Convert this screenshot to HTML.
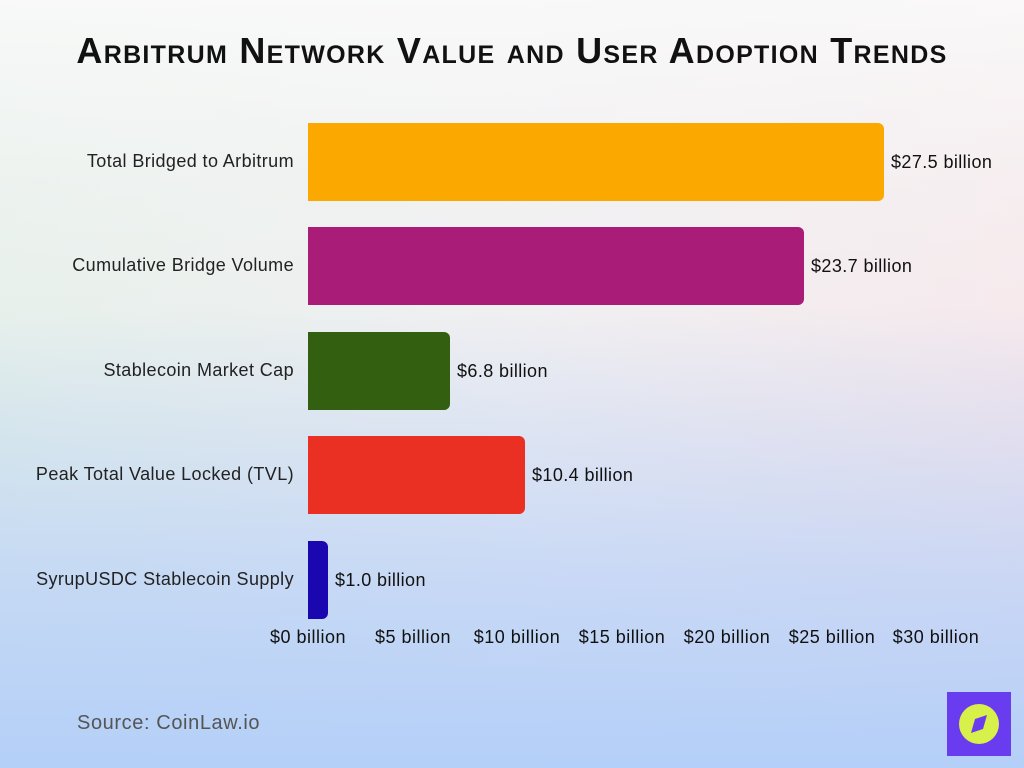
<!DOCTYPE html>
<html><head><meta charset="utf-8"><style>
body{margin:0;width:1024px;height:768px;overflow:hidden;font-family:"Liberation Sans",sans-serif;}
.bg{position:absolute;inset:0;background:
linear-gradient(180deg,rgba(250,250,250,0.9) 0%,rgba(245,245,245,0.5) 25%,rgba(220,230,250,0) 55%),
linear-gradient(90deg,#e3efe8 0%,#efeef0 50%,#f6e6ea 100%);}
.bg2{position:absolute;inset:0;background:linear-gradient(180deg,rgba(184,208,248,0) 40%,rgba(184,208,248,0.7) 75%,#b4cff8 100%);}
h1{position:absolute;top:30px;left:0;width:1024px;text-align:center;margin:0;font-size:36px;font-weight:900;letter-spacing:1.3px;color:#111;font-variant:small-caps;}
.lbl{position:absolute;right:730px;font-size:18px;letter-spacing:0.4px;color:#222;white-space:nowrap;}
.bar{position:absolute;left:308px;height:78px;border-radius:0 6px 6px 0;}
.val{position:absolute;font-size:18px;letter-spacing:0.4px;color:#111;white-space:nowrap;}
.tick{position:absolute;top:627px;font-size:18px;letter-spacing:0.5px;color:#111;transform:translateX(-50%);white-space:nowrap;}
</style></head><body>
<div class="bg"></div><div class="bg2"></div>
<h1>Arbitrum Network Value and User Adoption Trends</h1>

<div class="lbl" style="top:151px">Total Bridged to Arbitrum</div>
<div class="bar" style="top:123px;width:576px;background:#fba800"></div>
<div class="val" style="top:152px;left:891px">$27.5 billion</div>

<div class="lbl" style="top:255px">Cumulative Bridge Volume</div>
<div class="bar" style="top:227px;width:496px;background:#a91c78"></div>
<div class="val" style="top:256px;left:811px">$23.7 billion</div>

<div class="lbl" style="top:360px">Stablecoin Market Cap</div>
<div class="bar" style="top:332px;width:142px;background:#335f10"></div>
<div class="val" style="top:361px;left:457px">$6.8 billion</div>

<div class="lbl" style="top:464px">Peak Total Value Locked (TVL)</div>
<div class="bar" style="top:436px;width:217px;background:#ea3022"></div>
<div class="val" style="top:465px;left:532px">$10.4 billion</div>

<div class="lbl" style="top:569px">SyrupUSDC Stablecoin Supply</div>
<div class="bar" style="top:541px;width:20px;background:#1a07b0"></div>
<div class="val" style="top:570px;left:335px">$1.0 billion</div>

<div class="tick" style="left:308px">$0 billion</div>
<div class="tick" style="left:413px">$5 billion</div>
<div class="tick" style="left:517px">$10 billion</div>
<div class="tick" style="left:622px">$15 billion</div>
<div class="tick" style="left:727px">$20 billion</div>
<div class="tick" style="left:832px">$25 billion</div>
<div class="tick" style="left:936px">$30 billion</div>

<div style="position:absolute;left:77px;top:712px;font-size:20px;letter-spacing:0.6px;color:#555">Source: CoinLaw.io</div>
<div style="position:absolute;left:947px;top:692px;width:64px;height:64px;background:#6a3cf0">
<svg width="64" height="64" viewBox="0 0 64 64"><circle cx="32" cy="32" r="20" fill="#d8f04a"/><polygon points="40,23 36,37 24,41 28,27" fill="#6a3cf0"/></svg>
</div>
</body></html>
